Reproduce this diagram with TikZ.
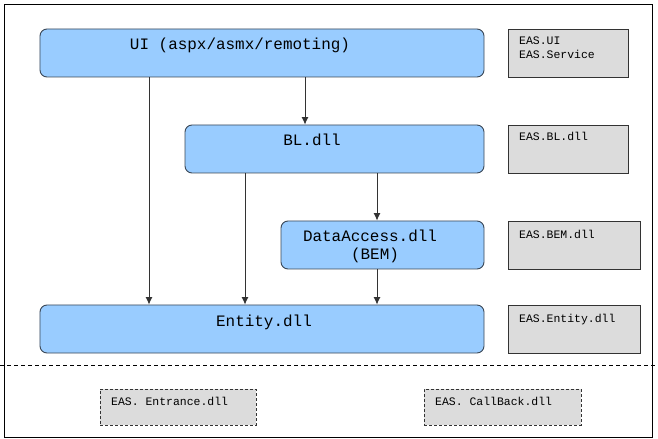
\documentclass[tikz,border=0pt]{standalone}
\usepackage{fontspec}
\newfontfamily\monofont{Liberation Mono}
\usetikzlibrary{arrows.meta}
\definecolor{boxblue}{HTML}{99CCFF}
\definecolor{boxedge}{HTML}{3A4756}
\definecolor{greyfill}{HTML}{DCDCDC}
\definecolor{lineclr}{HTML}{333333}
\tikzset{
  layer/.style={draw=boxedge, line width=0.9bp, fill=boxblue, rounded corners=7bp, inner sep=0pt},
  infobox/.style={draw=lineclr, line width=0.8bp, fill=greyfill, inner sep=0pt},
  optbox/.style={draw=lineclr, line width=0.8bp, fill=greyfill, inner sep=0pt, dash pattern=on 3bp off 2bp},
  bigtxt/.style={font=\monofont\fontsize{16}{19}\selectfont, inner sep=0pt, anchor=base},
  smalltxt/.style={font=\monofont\fontsize{11.5}{14}\selectfont, inner sep=0pt, anchor=north west, align=left},
  dep/.style={draw=lineclr, line width=0.9bp, -{Latex[length=7.5bp,width=7bp]}},
}
\begin{document}
\begin{tikzpicture}[x=1bp, y=-1bp]
\useasboundingbox (0,0) rectangle (658,439);
\fill[white] (0,0) rectangle (658,439);
% outer frame
\draw[black, line width=1bp] (4,5) rectangle (652,437);
% separator
\draw[black, line width=0.8bp, dash pattern=on 4bp off 3bp] (0,365) -- (658,365);

% layer boxes
\node[layer, minimum width=444bp, minimum height=48bp] (ui) at (262,53) {};
\node[layer, minimum width=299bp, minimum height=48bp] (bl) at (334.5,149) {};
\node[layer, minimum width=203bp, minimum height=48bp] (da) at (382.5,245) {};
\node[layer, minimum width=444bp, minimum height=48bp] (ent) at (262,329) {};

% layer texts
\node[bigtxt] (uitxt) at (240,49.5) {UI (aspx/asmx/remoting)};
\node[bigtxt] (bltxt) at (312,145.5) {BL.dll};
\node[bigtxt] (datxt) at (370,241.5) {DataAccess.dll};
\node[bigtxt] (bemtxt) at (375,259.5) {(BEM)};
\node[bigtxt] (enttxt) at (264,326.5) {Entity.dll};

% grey assembly boxes
\node[infobox, minimum width=120bp, minimum height=48bp] (g1) at (568,53) {};
\node[infobox, minimum width=120bp, minimum height=48bp] (g2) at (568,149) {};
\node[infobox, minimum width=132bp, minimum height=48bp] (g3) at (574,245) {};
\node[infobox, minimum width=132bp, minimum height=48bp] (g4) at (574,329) {};
\node[smalltxt] (g1t) at (519,36.5) {EAS.UI\\EAS.Service};
\node[smalltxt] (g2t) at (519,132.5) {EAS.BL.dll};
\node[smalltxt] (g3t) at (519,229.5) {EAS.BEM.dll};
\node[smalltxt] (g4t) at (519,313.5) {EAS.Entity.dll};

% dashed boxes
\node[optbox, minimum width=156bp, minimum height=36bp] (en) at (178,407) {};
\node[optbox, minimum width=157bp, minimum height=36bp] (cb) at (502.5,407) {};
\node[smalltxt] (ent2) at (111,396.5) {EAS. Entrance.dll};
\node[smalltxt] (cbt) at (435,396.5) {EAS. CallBack.dll};

% connector x positions
\coordinate (xa) at (149,0);
\coordinate (xb) at (305,0);
\coordinate (xc) at (245,0);
\coordinate (xd) at (377,0);

\draw[dep] (xa |- ui.south) -- (xa |- ent.north);
\draw[dep] (xb |- ui.south) -- (xb |- bl.north);
\draw[dep] (xc |- bl.south) -- (xc |- ent.north);
\draw[dep] (xd |- bl.south) -- (xd |- da.north);
\draw[dep] (xd |- da.south) -- (xd |- ent.north);
\end{tikzpicture}
\end{document}
